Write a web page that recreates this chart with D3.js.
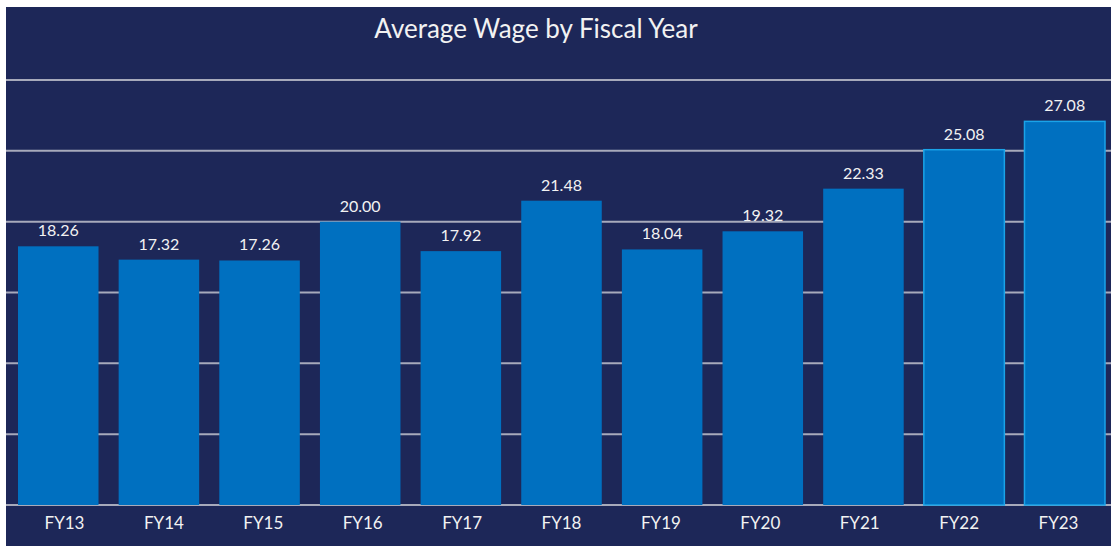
<!DOCTYPE html>
<html>
<head>
<meta charset="utf-8">
<script src="https://cdn.jsdelivr.net/npm/d3@7"></script>
<style>
  html, body { margin: 0; padding: 0; background: #fff; }
  svg { display: block; }
</style>
</head>
<body>
<div id="chart"></div>
<script>
var years = ["FY13", "FY14", "FY15", "FY16", "FY17", "FY18", "FY19", "FY20", "FY21", "FY22", "FY23"],
    wages = [18.26, 17.32, 17.26, 20.00, 17.92, 21.48, 18.04, 19.32, 22.33, 25.08, 27.08],
    highlighted = ["FY22", "FY23"],
    gridTicks = [0, 5, 10, 15, 20, 25, 30];

var width = 1111,
    height = 548;

var svg = d3.select("#chart").append("svg")
    .attr("width", width)
    .attr("height", height);

// panel
svg.append("rect")
    .attr("x", 6)
    .attr("y", 7)
    .attr("width", width - 6)
    .attr("height", 539)
    .attr("fill", "#1d2758");

var x = d3.scaleBand()
    .domain(years)
    .range([18, 1105])
    .paddingInner(0.2)
    .paddingOuter(0);

// axis labels sit on a slightly narrower spread than the bars
var xLabel = d3.scalePoint()
    .domain(years)
    .range([64, 1058]);

var y = d3.scaleLinear()
    .domain([0, 30])
    .range([505, 80]);

// gridlines
svg.append("g")
    .selectAll("line")
    .data(gridTicks)
    .join("line")
    .attr("x1", 6)
    .attr("x2", width)
    .attr("y1", function (d) { return y(d); })
    .attr("y2", function (d) { return y(d); })
    .attr("stroke", "#a7aabb")
    .attr("stroke-width", 2);

// bars
svg.append("g")
    .selectAll("rect")
    .data(years)
    .join("rect")
    .attr("x", function (d) { return x(d); })
    .attr("y", function (d, i) { return y(wages[i]); })
    .attr("width", x.bandwidth())
    .attr("height", function (d, i) { return y(0) - y(wages[i]); })
    .attr("fill", "#0070c0")
    .attr("stroke", function (d) { return highlighted.indexOf(d) >= 0 ? "#1aa3e8" : "none"; })
    .attr("stroke-width", 1.5);

// value labels
svg.append("g")
    .selectAll("text")
    .data(years)
    .join("text")
    .attr("x", function (d) { return x(d) + x.bandwidth() / 2; })
    .attr("y", function (d, i) { return y(wages[i]) - 10; })
    .attr("text-anchor", "middle")
    .attr("fill", "#f2f2f2")
    .style("font-family", "Lato, 'Open Sans', sans-serif")
    .style("font-size", "16px")
    .text(function (d, i) { return d3.format(".2f")(wages[i]); });

// x axis
var xAxis = svg.append("g")
    .attr("transform", "translate(0," + 505 + ")")
    .call(d3.axisBottom(xLabel).tickSize(0).tickPadding(12));

xAxis.select(".domain").remove();
xAxis.selectAll("text")
    .attr("fill", "#f2f2f2")
    .style("font-family", "Lato, 'Open Sans', sans-serif")
    .style("font-size", "17px");

// title
svg.append("text")
    .attr("x", 536)
    .attr("y", 38)
    .attr("text-anchor", "middle")
    .attr("fill", "#f2f2f2")
    .style("font-family", "Lato, 'Open Sans', sans-serif")
    .style("font-size", "26px")
    .text("Average Wage by Fiscal Year");
</script>
</body>
</html>
